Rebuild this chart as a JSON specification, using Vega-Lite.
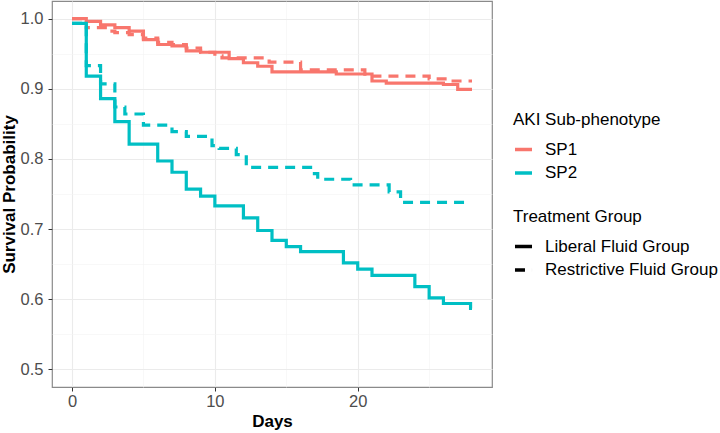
{
  "$schema": "https://vega.github.io/schema/vega-lite/v6.json",
  "autosize": "none",
  "width": 440,
  "height": 386,
  "padding": {"left": 52, "top": 1, "right": 228, "bottom": 46},
  "background": "white",
  "data": {
    "values": [
      {"day": 0, "surv": 1.0, "sp": "SP1", "grp": "Liberal Fluid Group"},
      {"day": 1, "surv": 0.996, "sp": "SP1", "grp": "Liberal Fluid Group"},
      {"day": 2, "surv": 0.991, "sp": "SP1", "grp": "Liberal Fluid Group"},
      {"day": 3, "surv": 0.987, "sp": "SP1", "grp": "Liberal Fluid Group"},
      {"day": 4, "surv": 0.982, "sp": "SP1", "grp": "Liberal Fluid Group"},
      {"day": 5, "surv": 0.970, "sp": "SP1", "grp": "Liberal Fluid Group"},
      {"day": 6, "surv": 0.963, "sp": "SP1", "grp": "Liberal Fluid Group"},
      {"day": 7, "surv": 0.961, "sp": "SP1", "grp": "Liberal Fluid Group"},
      {"day": 8, "surv": 0.954, "sp": "SP1", "grp": "Liberal Fluid Group"},
      {"day": 9, "surv": 0.952, "sp": "SP1", "grp": "Liberal Fluid Group"},
      {"day": 11, "surv": 0.943, "sp": "SP1", "grp": "Liberal Fluid Group"},
      {"day": 12, "surv": 0.937, "sp": "SP1", "grp": "Liberal Fluid Group"},
      {"day": 13, "surv": 0.932, "sp": "SP1", "grp": "Liberal Fluid Group"},
      {"day": 14, "surv": 0.924, "sp": "SP1", "grp": "Liberal Fluid Group"},
      {"day": 18.5, "surv": 0.921, "sp": "SP1", "grp": "Liberal Fluid Group"},
      {"day": 21, "surv": 0.911, "sp": "SP1", "grp": "Liberal Fluid Group"},
      {"day": 22, "surv": 0.908, "sp": "SP1", "grp": "Liberal Fluid Group"},
      {"day": 26, "surv": 0.906, "sp": "SP1", "grp": "Liberal Fluid Group"},
      {"day": 27, "surv": 0.899, "sp": "SP1", "grp": "Liberal Fluid Group"},
      {"day": 28, "surv": 0.899, "sp": "SP1", "grp": "Liberal Fluid Group"},

      {"day": 0, "surv": 1.0, "sp": "SP1", "grp": "Restrictive Fluid Group"},
      {"day": 1, "surv": 0.987, "sp": "SP1", "grp": "Restrictive Fluid Group"},
      {"day": 2.5, "surv": 0.982, "sp": "SP1", "grp": "Restrictive Fluid Group"},
      {"day": 3, "surv": 0.980, "sp": "SP1", "grp": "Restrictive Fluid Group"},
      {"day": 4, "surv": 0.977, "sp": "SP1", "grp": "Restrictive Fluid Group"},
      {"day": 5, "surv": 0.972, "sp": "SP1", "grp": "Restrictive Fluid Group"},
      {"day": 6, "surv": 0.966, "sp": "SP1", "grp": "Restrictive Fluid Group"},
      {"day": 7, "surv": 0.963, "sp": "SP1", "grp": "Restrictive Fluid Group"},
      {"day": 8, "surv": 0.958, "sp": "SP1", "grp": "Restrictive Fluid Group"},
      {"day": 9, "surv": 0.952, "sp": "SP1", "grp": "Restrictive Fluid Group"},
      {"day": 10, "surv": 0.947, "sp": "SP1", "grp": "Restrictive Fluid Group"},
      {"day": 10.5, "surv": 0.944, "sp": "SP1", "grp": "Restrictive Fluid Group"},
      {"day": 13.8, "surv": 0.938, "sp": "SP1", "grp": "Restrictive Fluid Group"},
      {"day": 16, "surv": 0.927, "sp": "SP1", "grp": "Restrictive Fluid Group"},
      {"day": 20.5, "surv": 0.918, "sp": "SP1", "grp": "Restrictive Fluid Group"},
      {"day": 25, "surv": 0.914, "sp": "SP1", "grp": "Restrictive Fluid Group"},
      {"day": 26.5, "surv": 0.911, "sp": "SP1", "grp": "Restrictive Fluid Group"},
      {"day": 28, "surv": 0.911, "sp": "SP1", "grp": "Restrictive Fluid Group"},

      {"day": 0, "surv": 0.993, "sp": "SP2", "grp": "Liberal Fluid Group"},
      {"day": 1, "surv": 0.918, "sp": "SP2", "grp": "Liberal Fluid Group"},
      {"day": 2, "surv": 0.886, "sp": "SP2", "grp": "Liberal Fluid Group"},
      {"day": 3, "surv": 0.853, "sp": "SP2", "grp": "Liberal Fluid Group"},
      {"day": 4, "surv": 0.821, "sp": "SP2", "grp": "Liberal Fluid Group"},
      {"day": 6, "surv": 0.797, "sp": "SP2", "grp": "Liberal Fluid Group"},
      {"day": 7, "surv": 0.781, "sp": "SP2", "grp": "Liberal Fluid Group"},
      {"day": 8, "surv": 0.757, "sp": "SP2", "grp": "Liberal Fluid Group"},
      {"day": 9, "surv": 0.747, "sp": "SP2", "grp": "Liberal Fluid Group"},
      {"day": 10, "surv": 0.733, "sp": "SP2", "grp": "Liberal Fluid Group"},
      {"day": 12, "surv": 0.716, "sp": "SP2", "grp": "Liberal Fluid Group"},
      {"day": 13, "surv": 0.698, "sp": "SP2", "grp": "Liberal Fluid Group"},
      {"day": 14, "surv": 0.684, "sp": "SP2", "grp": "Liberal Fluid Group"},
      {"day": 15, "surv": 0.675, "sp": "SP2", "grp": "Liberal Fluid Group"},
      {"day": 16, "surv": 0.668, "sp": "SP2", "grp": "Liberal Fluid Group"},
      {"day": 19, "surv": 0.652, "sp": "SP2", "grp": "Liberal Fluid Group"},
      {"day": 20, "surv": 0.643, "sp": "SP2", "grp": "Liberal Fluid Group"},
      {"day": 21, "surv": 0.634, "sp": "SP2", "grp": "Liberal Fluid Group"},
      {"day": 24, "surv": 0.618, "sp": "SP2", "grp": "Liberal Fluid Group"},
      {"day": 25, "surv": 0.602, "sp": "SP2", "grp": "Liberal Fluid Group"},
      {"day": 26, "surv": 0.594, "sp": "SP2", "grp": "Liberal Fluid Group"},
      {"day": 27.9, "surv": 0.587, "sp": "SP2", "grp": "Liberal Fluid Group"},
      {"day": 28, "surv": 0.587, "sp": "SP2", "grp": "Liberal Fluid Group"},

      {"day": 0, "surv": 0.993, "sp": "SP2", "grp": "Restrictive Fluid Group"},
      {"day": 1, "surv": 0.933, "sp": "SP2", "grp": "Restrictive Fluid Group"},
      {"day": 2, "surv": 0.907, "sp": "SP2", "grp": "Restrictive Fluid Group"},
      {"day": 3, "surv": 0.874, "sp": "SP2", "grp": "Restrictive Fluid Group"},
      {"day": 3.7, "surv": 0.864, "sp": "SP2", "grp": "Restrictive Fluid Group"},
      {"day": 5, "surv": 0.848, "sp": "SP2", "grp": "Restrictive Fluid Group"},
      {"day": 7, "surv": 0.839, "sp": "SP2", "grp": "Restrictive Fluid Group"},
      {"day": 8, "surv": 0.832, "sp": "SP2", "grp": "Restrictive Fluid Group"},
      {"day": 9.8, "surv": 0.819, "sp": "SP2", "grp": "Restrictive Fluid Group"},
      {"day": 10.3, "surv": 0.815, "sp": "SP2", "grp": "Restrictive Fluid Group"},
      {"day": 11.5, "surv": 0.806, "sp": "SP2", "grp": "Restrictive Fluid Group"},
      {"day": 12.2, "surv": 0.788, "sp": "SP2", "grp": "Restrictive Fluid Group"},
      {"day": 16.7, "surv": 0.779, "sp": "SP2", "grp": "Restrictive Fluid Group"},
      {"day": 17.2, "surv": 0.771, "sp": "SP2", "grp": "Restrictive Fluid Group"},
      {"day": 19.5, "surv": 0.763, "sp": "SP2", "grp": "Restrictive Fluid Group"},
      {"day": 22.2, "surv": 0.753, "sp": "SP2", "grp": "Restrictive Fluid Group"},
      {"day": 23, "surv": 0.738, "sp": "SP2", "grp": "Restrictive Fluid Group"},
      {"day": 27.5, "surv": 0.738, "sp": "SP2", "grp": "Restrictive Fluid Group"}
    ]
  },
  "mark": {"type": "line", "interpolate": "step-after", "strokeWidth": 3.2},
  "encoding": {
    "x": {
      "field": "day",
      "type": "quantitative",
      "scale": {"domain": [-1.4, 29.4], "nice": false, "zero": false},
      "axis": {
        "title": "Days",
        "values": [0, 5, 10, 15, 20, 25],
        "labelExpr": "datum.value % 10 == 0 ? datum.label : ''",
        "gridColor": {"condition": {"test": "datum.value % 10 == 0", "value": "#EBEBEB"}, "value": "#F4F4F4"},
        "gridWidth": {"condition": {"test": "datum.value % 10 == 0", "value": 1.1}, "value": 0.6},
        "tickOpacity": {"condition": {"test": "datum.value % 10 == 0", "value": 1}, "value": 0},
        "labelPadding": 2,
        "titleY": 26,
        "titleBaseline": "top"
      }
    },
    "y": {
      "field": "surv",
      "type": "quantitative",
      "scale": {"domain": [0.475, 1.025], "nice": false, "zero": false},
      "axis": {
        "title": "Survival Probability",
        "values": [0.5, 0.55, 0.6, 0.65, 0.7, 0.75, 0.8, 0.85, 0.9, 0.95, 1.0],
        "format": ".1f",
        "labelExpr": "abs(datum.value * 10 - round(datum.value * 10)) < 0.001 ? datum.label : ''",
        "gridColor": {"condition": {"test": "abs(datum.value * 10 - round(datum.value * 10)) < 0.001", "value": "#EBEBEB"}, "value": "#F4F4F4"},
        "gridWidth": {"condition": {"test": "abs(datum.value * 10 - round(datum.value * 10)) < 0.001", "value": 1.1}, "value": 0.6},
        "tickOpacity": {"condition": {"test": "abs(datum.value * 10 - round(datum.value * 10)) < 0.001", "value": 1}, "value": 0},
        "labelPadding": 5,
        "titleX": -34,
        "titleY": 193,
        "titleAngle": 270,
        "titleAlign": "center",
        "titleBaseline": "bottom"
      }
    },
    "color": {
      "field": "sp",
      "type": "nominal",
      "scale": {"domain": ["SP1", "SP2"], "range": ["#F8766D", "#00BFC4"]},
      "legend": {"title": "AKI Sub-phenotype", "orient": "none", "legendX": 461, "legendY": 111}
    },
    "strokeDash": {
      "field": "grp",
      "type": "nominal",
      "scale": {"domain": ["Liberal Fluid Group", "Restrictive Fluid Group"], "range": [[1, 0], [10, 7]]},
      "legend": {"title": "Treatment Group", "orient": "none", "legendX": 461, "legendY": 208, "symbolStrokeColor": "black"}
    }
  },
  "config": {
    "font": "Liberation Sans",
    "view": {"stroke": "#8A8A8A", "strokeWidth": 1.2},
    "axis": {
      "domain": false,
      "grid": true,
      "tickColor": "#333333",
      "tickSize": 4,
      "labelFontSize": 16.5,
      "labelColor": "#4D4D4D",
      "labelOverlap": false,
      "labelFlush": false,
      "titleFontSize": 17,
      "titleFontWeight": "bold",
      "titleColor": "#000000"
    },
    "legend": {
      "padding": 0,
      "titleFontSize": 17,
      "titleFontWeight": "normal",
      "titleColor": "#000000",
      "titlePadding": 10,
      "labelFontSize": 17,
      "labelColor": "#000000",
      "labelLimit": 0,
      "labelOffset": 11,
      "symbolType": "stroke",
      "symbolSize": 290,
      "symbolStrokeWidth": 3.5,
      "rowPadding": 4.5
    }
  }
}
